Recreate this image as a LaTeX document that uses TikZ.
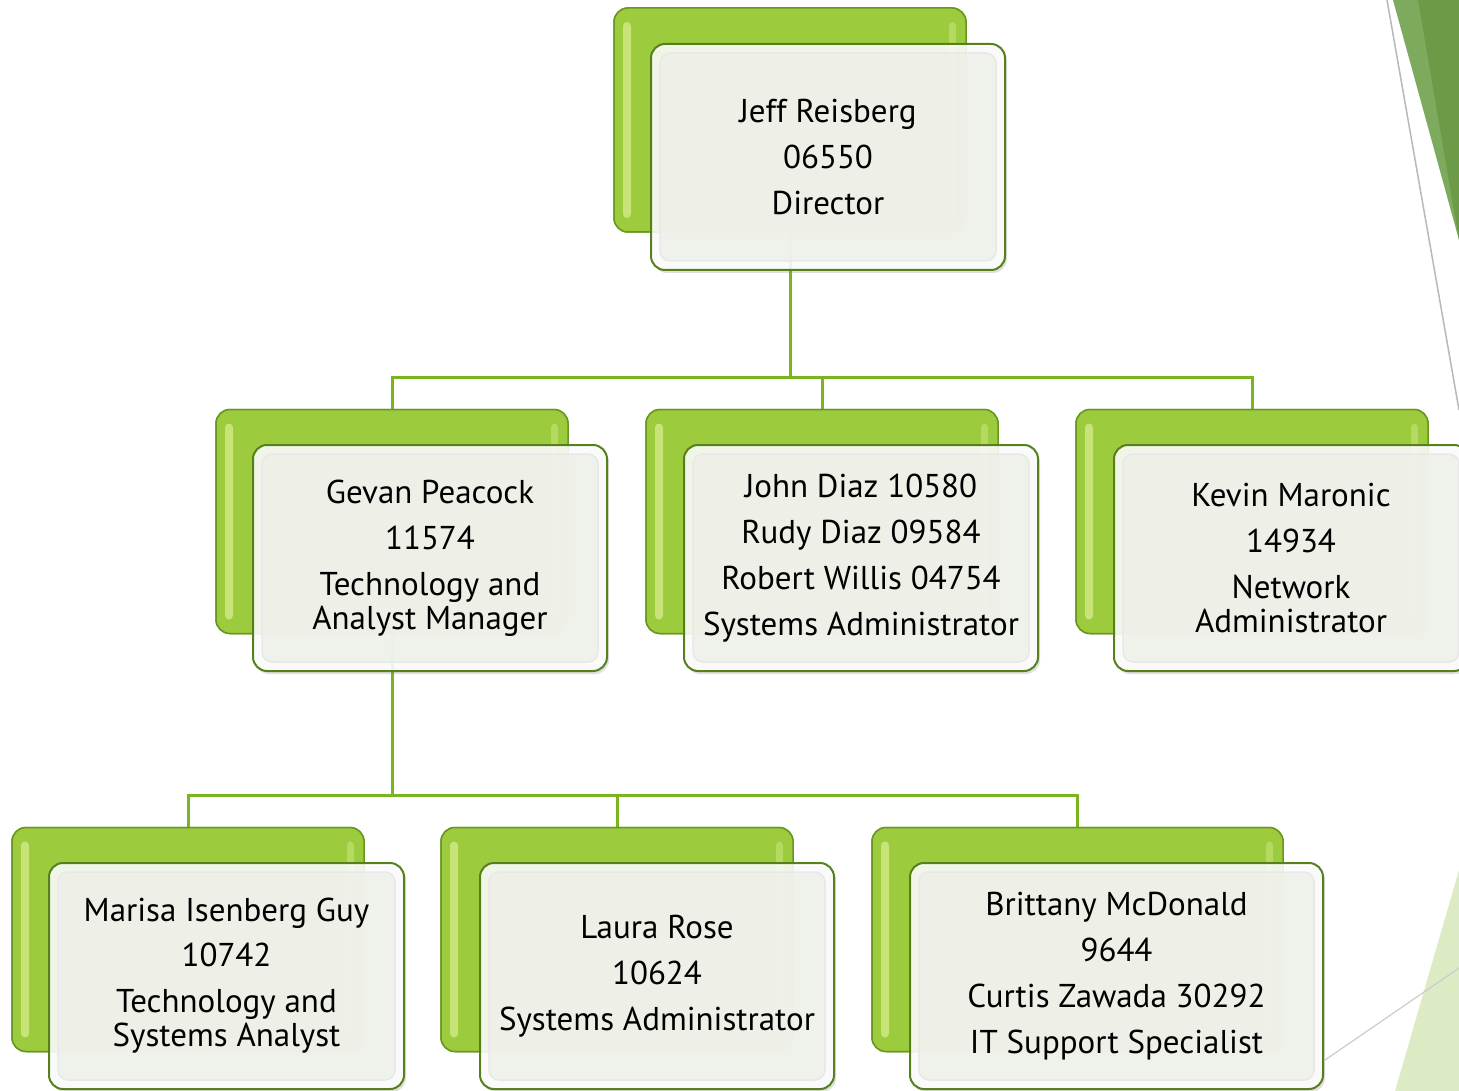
\documentclass[tikz,border=0pt]{standalone}
\usepackage{fontspec}
\setmainfont{PT Sans}
\usetikzlibrary{shadows}
\definecolor{connc}{RGB}{122,180,32}
\definecolor{backg}{RGB}{156,203,62}
\definecolor{backd}{RGB}{104,150,30}
\definecolor{backl}{RGB}{200,228,120}
\definecolor{frontd}{RGB}{85,128,28}
\definecolor{frontf}{RGB}{238,240,233}
\definecolor{deco}{RGB}{108,155,72}
\definecolor{decol}{RGB}{125,170,92}
\definecolor{decobg}{RGB}{220,235,196}
\begin{document}
\begin{tikzpicture}[x=1pt,y=-1pt,
  backbox/.style={draw=backd, line width=1.5pt, fill=backg, rounded corners=14pt,
    minimum width=352pt, minimum height=224pt, inner sep=0pt,
    path picture={
      \fill[backl, rounded corners=4pt] ([shift={(9pt,-14pt)}]path picture bounding box.north west) rectangle ([shift={(17pt,14pt)}]path picture bounding box.south west);
      \fill[backl!60!backg, rounded corners=4pt] ([shift={(-17pt,-14pt)}]path picture bounding box.north east) rectangle ([shift={(-10pt,14pt)}]path picture bounding box.south east);
    }},
  frontbox/.style={draw=frontd, line width=2pt, fill=white, fill opacity=0.87, text opacity=1,
    rounded corners=14pt, minimum width=354pt, minimum height=226pt, inner sep=0pt,
    align=center, font=\fontsize{33}{34}\selectfont,
    drop shadow={opacity=0.25, shadow xshift=2pt, shadow yshift=-3pt},
    path picture={
      \fill[frontf, rounded corners=10pt] ([shift={(9pt,-9pt)}]path picture bounding box.north west) rectangle ([shift={(-9pt,9pt)}]path picture bounding box.south east);
      \draw[black!9, line width=1.5pt, rounded corners=10pt] ([shift={(9pt,-9pt)}]path picture bounding box.north west) rectangle ([shift={(-9pt,9pt)}]path picture bounding box.south east);
    }},
  connline/.style={draw=connc, line width=3pt}]
\useasboundingbox (0,0) rectangle (1459,1091);
\clip (0,0) rectangle (1459,1091);
% slide decorations
\fill[decol] (1393,0) -- (1459,0) -- (1459,240) -- cycle;
\fill[deco] (1418,0) -- (1459,0) -- (1459,240) -- cycle;
\draw[black!28, line width=1.5pt] (1387,0) -- (1459,410);
\fill[decobg] (1459,870) -- (1459,1091) -- (1395,1091) -- cycle;
\draw[black!20, line width=1.2pt] (1325,1060) -- (1459,968);
% coordinates of the buses
\coordinate (bus1) at (790,377);
\coordinate (bus2) at (392,795);
% back boxes
\node[backbox] (jeffB) at (790,120) {};
\node[backbox] (gevB) at (392,521.5) {};
\node[backbox] (johnB) at (822,521.5) {};
\node[backbox] (kevB) at (1252,521.5) {};
\node[backbox] (marB) at (188,939.5) {};
\node[backbox] (lauB) at (617,939.5) {};
\node[backbox, minimum width=411pt] (briB) at (1077.5,939.5) {};
% connectors
\draw[connline] (jeffB.south) -- (bus1);
\draw[connline] (gevB.north) |- (bus1) -| (kevB.north);
\draw[connline] (bus1) -| (johnB.north);
\draw[connline] (gevB.south) -- (bus2);
\draw[connline] (marB.north) |- (bus2) -| (briB.north);
\draw[connline] (bus2) -| (lauB.north);
% redraw back boxes on top of connector ends
\node[backbox] at (790,120) {};
\node[backbox] at (392,521.5) {};
\node[backbox] at (822,521.5) {};
\node[backbox] at (1252,521.5) {};
\node[backbox] at (188,939.5) {};
\node[backbox] at (617,939.5) {};
\node[backbox, minimum width=411pt] at (1077.5,939.5) {};
% front boxes
\node[frontbox] (jeff) at (828,157) {Jeff Reisberg\\[12pt]06550\\[12pt]Director};
\node[frontbox] (gev) at (430,558) {Gevan Peacock\\[12pt]11574\\[12pt]Technology and\\Analyst Manager};
\node[frontbox] (john) at (861,558) {John Diaz 10580\\[12pt]Rudy Diaz 09584\\[12pt]Robert Willis 04754\\[12pt]Systems Administrator};
\node[frontbox] (kev) at (1291,558) {Kevin Maronic\\[12pt]14934\\[12pt]Network\\Administrator};
\node[frontbox, minimum width=355pt] (mar) at (226.5,976) {Marisa Isenberg Guy\\[11pt]10742\\[12pt]Technology and\\Systems Analyst};
\node[frontbox] (lau) at (657,976) {Laura Rose\\[12pt]10624\\[12pt]Systems Administrator};
\node[frontbox, minimum width=413pt] (bri) at (1116.5,976) {Brittany McDonald\\[12pt]9644\\[12pt]Curtis Zawada 30292\\[12pt]IT Support Specialist};
\end{tikzpicture}
\end{document}
